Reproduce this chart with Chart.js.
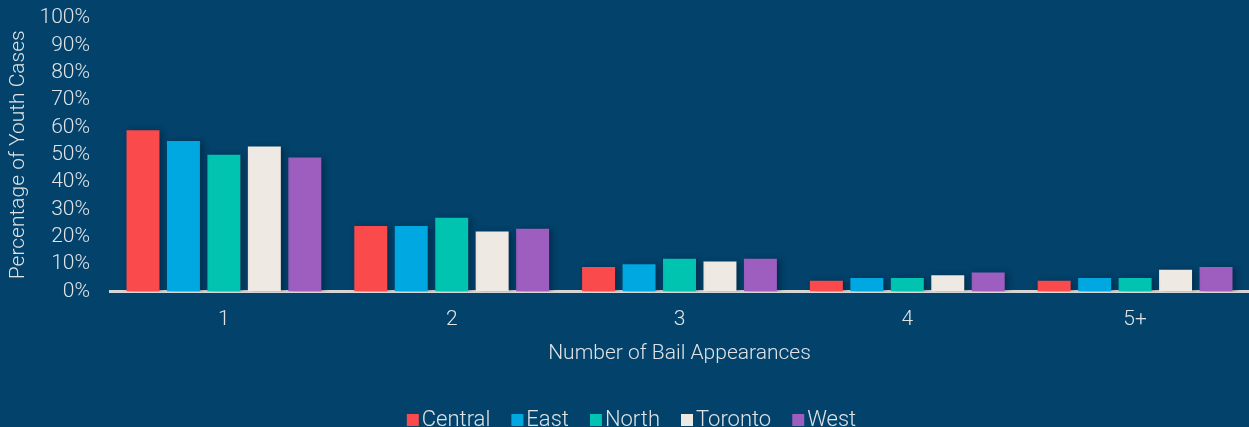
<!DOCTYPE html>
<html>
<head>
<meta charset="utf-8">
<script src="https://cdn.jsdelivr.net/npm/chart.js@4/dist/chart.umd.min.js"></script>
<style>
  html, body { margin: 0; padding: 0; background: #02426b; }
  #wrap { width: 1249px; height: 427px; position: relative; }
</style>
</head>
<body>
<div id="wrap"><canvas id="bailChart"></canvas></div>
<script>
const categories = ["1", "2", "3", "4", "5+"];
const central = [59, 24, 9, 4, 4];
const east = [55, 24, 10, 5, 5];
const north = [50, 27, 12, 5, 5];
const toronto = [53, 22, 11, 6, 8];
const west = [49, 23, 12, 7, 9];

const textColor = "#dfe3e6";
const fontFamily = "Roboto, 'Noto Sans', sans-serif";

// soft drop shadow behind each bar
const barShadow = {
  id: "barShadow",
  beforeDatasetDraw(chart) {
    const ctx = chart.ctx;
    ctx.save();
    ctx.shadowColor = "rgba(0, 20, 40, 0.45)";
    ctx.shadowBlur = 6;
    ctx.shadowOffsetX = 3;
    ctx.shadowOffsetY = 1;
  },
  afterDatasetDraw(chart) {
    chart.ctx.restore();
  },
};

// legend swatch: square sits close to the label text
const makeSwatch = (color) => {
  const c = document.createElement("canvas");
  c.width = 40;
  c.height = 12;
  const g = c.getContext("2d");
  g.fillStyle = color;
  g.fillRect(22, 0, 12, 12);
  return c;
};

const makeSet = (label, data, color) => ({
  label,
  data,
  backgroundColor: color,
  borderWidth: 0,
  pointStyle: makeSwatch(color),
  barPercentage: 0.815,
  categoryPercentage: 0.888,
});

new Chart(document.querySelector("#bailChart"), {
  type: "bar",
  data: {
    labels: categories,
    datasets: [
      makeSet("Central", central, "#fb4a4c"),
      makeSet("East", east, "#00a8e2"),
      makeSet("North", north, "#00c4b0"),
      makeSet("Toronto", toronto, "#efe9e3"),
      makeSet("West", west, "#9d5ebf"),
    ],
  },
  plugins: [barShadow],
  options: {
    responsive: true,
    maintainAspectRatio: false,
    animation: false,
    layout: { padding: { top: 18, right: 0, bottom: -14, left: 6 } },
    plugins: {
      legend: {
        position: "bottom",
        labels: {
          color: textColor,
          font: { family: fontFamily, size: 22, weight: "300" },
          usePointStyle: true,
          boxWidth: 12,
          boxHeight: 12,
          padding: 13,
        },
      },
      tooltip: { enabled: false },
    },
    scales: {
      x: {
        grid: { display: false, drawTicks: false },
        border: { display: true, color: "#d6d6d6", width: 3 },
        ticks: {
          color: textColor,
          font: { family: fontFamily, size: 21, weight: "300" },
          padding: 16,
        },
        title: {
          display: true,
          text: "Number of Bail Appearances",
          color: textColor,
          font: { family: fontFamily, size: 21, weight: "300" },
          padding: { top: -8, bottom: 30 },
        },
      },
      y: {
        min: 0,
        max: 100,
        grid: { display: false, drawTicks: false },
        border: { display: false },
        afterFit: (scale) => {
          scale.width = 104;
          scale.paddingTop = 0;
          scale.paddingBottom = 0;
        },
        ticks: {
          stepSize: 10,
          autoSkip: false,
          color: textColor,
          font: { family: fontFamily, size: 21, weight: "300" },
          padding: 20,
          callback: (v) => v + "%",
        },
        title: {
          display: true,
          text: "Percentage of Youth Cases",
          color: textColor,
          font: { family: fontFamily, size: 21, weight: "300" },
          padding: { top: 0, bottom: 9 },
        },
      },
    },
  },
});
</script>
</body>
</html>
